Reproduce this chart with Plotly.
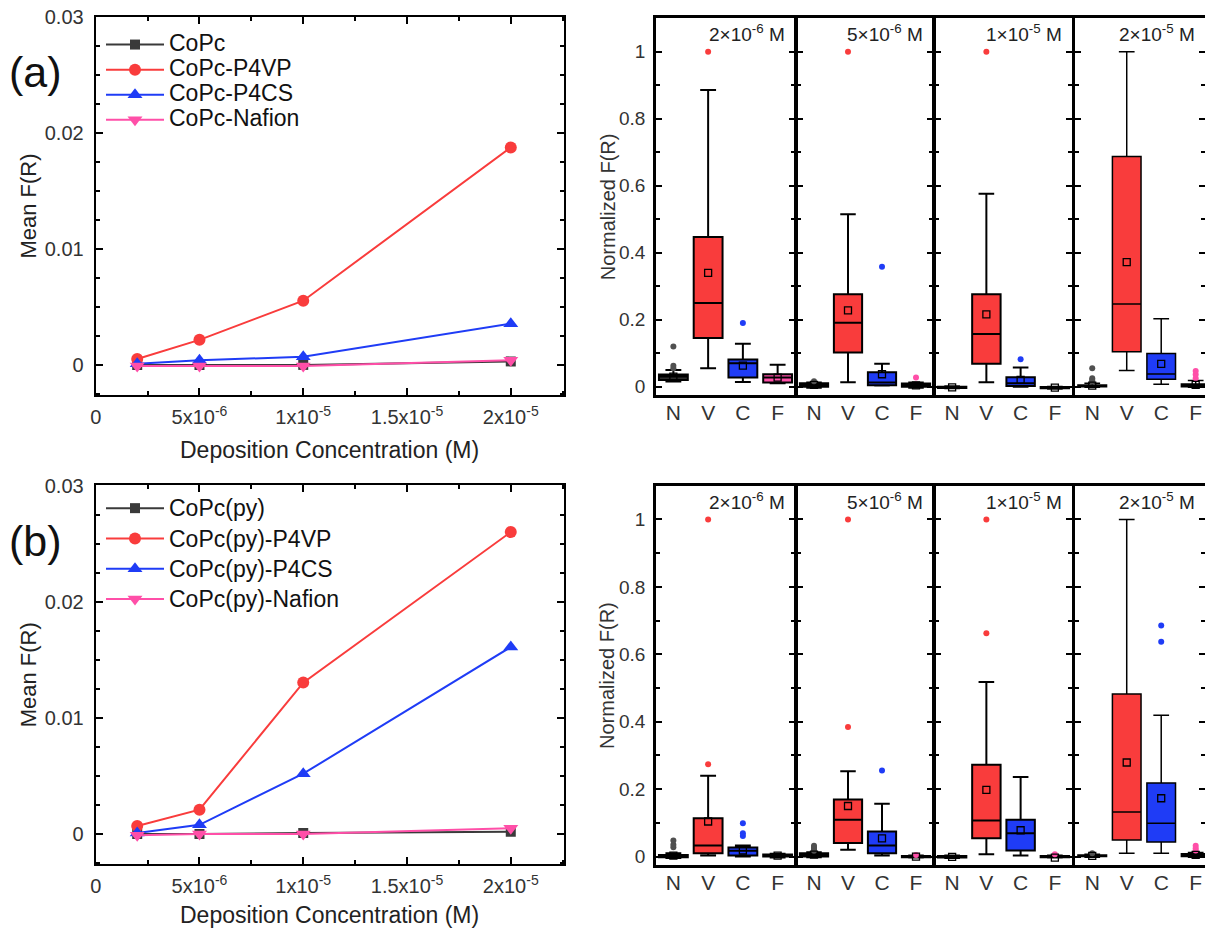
import plotly.graph_objects as go

W, H = 1205, 930
FONT = "Arial, Liberation Sans, sans-serif"

# ---------------- mean F(R) vs deposition concentration ----------------
conc = [2e-6, 5e-6, 1e-5, 2e-5]

copc_a = [0.0, 0.0, 0.0, 0.0003]
p4vp_a = [0.0005, 0.00216, 0.00554, 0.01877]
p4cs_a = [0.0001, 0.0004, 0.0007, 0.00356]
nafion_a = [-0.0001, -0.0001, -0.0001, 0.0004]

copc_b = [0.0, 0.0, 0.0001, 0.0002]
p4vp_b = [0.0007, 0.0021, 0.01304, 0.0260]
p4cs_b = [0.0001, 0.0008, 0.0052, 0.0161]
nafion_b = [-0.0001, 0.0, 0.0, 0.0005]

names_a = ["CoPc", "CoPc-P4VP", "CoPc-P4CS", "CoPc-Nafion"]
names_b = ["CoPc(py)", "CoPc(py)-P4VP", "CoPc(py)-P4CS", "CoPc(py)-Nafion"]

x_tickvals = [0, 5e-6, 1e-5, 1.5e-5, 2e-5]
x_ticktext = ["0", "5x10<sup>-6</sup>", "1x10<sup>-5</sup>",
              "1.5x10<sup>-5</sup>", "2x10<sup>-5</sup>"]
y_tickvals = [0, 0.01, 0.02, 0.03]
y_ticktext = ["0", "0.01", "0.02", "0.03"]

# ---------------- normalized F(R) box statistics ----------------
groups = ["N", "V", "C", "F"]
conc_labels = ["2\u00d710<sup>-6</sup> M", "5\u00d710<sup>-6</sup> M",
               "1\u00d710<sup>-5</sup> M", "2\u00d710<sup>-5</sup> M"]

# row (a): one inner list per concentration, ordered N, V, C, F
q1_a = [[0.020, 0.145, 0.027, 0.012],
        [0.000, 0.102, 0.004, 0.000],
        [-0.004, 0.068, 0.002, -0.005],
        [0.000, 0.104, 0.022, 0.000]]
med_a = [[0.030, 0.250, 0.070, 0.027],
         [0.005, 0.191, 0.012, 0.004],
         [-0.002, 0.157, 0.010, -0.003],
         [0.002, 0.247, 0.038, 0.004]]
q3_a = [[0.036, 0.447, 0.081, 0.037],
        [0.010, 0.276, 0.043, 0.009],
        [0.000, 0.276, 0.028, -0.001],
        [0.005, 0.687, 0.099, 0.008]]
lo_a = [[0.015, 0.055, 0.014, 0.010],
        [-0.003, 0.013, 0.003, -0.003],
        [-0.005, 0.013, 0.000, -0.006],
        [-0.002, 0.048, 0.007, -0.002]]
hi_a = [[0.050, 0.886, 0.128, 0.065],
        [0.012, 0.515, 0.068, 0.012],
        [0.001, 0.576, 0.057, 0.000],
        [0.010, 1.000, 0.203, 0.018]]
mean_a = [[0.030, 0.340, 0.063, 0.027],
          [0.005, 0.228, 0.037, 0.004],
          [-0.002, 0.216, 0.020, -0.003],
          [0.003, 0.372, 0.068, 0.005]]
out_a = [[[0.055, 0.062, 0.12], [1.0], [0.190], []],
         [[0.016], [1.0], [0.358], [0.027]],
         [[], [1.0], [0.082], []],
         [[0.015, 0.020, 0.025, 0.055], [], [], [0.025, 0.036, 0.047]]]

# row (b)
q1_b = [[-0.002, 0.010, 0.003, 0.000],
        [0.000, 0.040, 0.010, -0.002],
        [-0.003, 0.054, 0.018, -0.002],
        [0.000, 0.049, 0.043, 0.000]]
med_b = [[0.002, 0.033, 0.017, 0.003],
         [0.005, 0.109, 0.033, 0.000],
         [0.000, 0.107, 0.069, 0.000],
         [0.002, 0.132, 0.099, 0.004]]
q3_b = [[0.005, 0.114, 0.027, 0.006],
        [0.010, 0.169, 0.074, 0.002],
        [0.002, 0.272, 0.109, 0.002],
        [0.005, 0.482, 0.218, 0.008]]
lo_b = [[-0.004, 0.003, 0.000, -0.003],
        [-0.002, 0.020, 0.003, -0.003],
        [-0.004, 0.007, 0.003, -0.003],
        [-0.002, 0.010, 0.010, -0.002]]
hi_b = [[0.010, 0.240, 0.033, 0.008],
        [0.013, 0.253, 0.157, 0.003],
        [0.003, 0.518, 0.236, 0.003],
        [0.007, 1.000, 0.419, 0.012]]
mean_b = [[0.003, 0.104, 0.018, 0.003],
          [0.006, 0.150, 0.054, 0.000],
          [-0.001, 0.198, 0.078, -0.003],
          [0.002, 0.279, 0.173, 0.005]]
out_b = [[[0.028, 0.035, 0.048], [0.274, 1.0], [0.061, 0.069, 0.099], []],
         [[0.017, 0.022, 0.027, 0.032], [0.384, 1.0], [0.255], [0.005]],
         [[], [0.662, 1.0], [], [0.007]],
         [[0.010], [], [0.637, 0.685], [0.018, 0.025, 0.032]]]

# ---------------- styling ----------------
GRAY, RED, BLUE, PINK = "#3a3a3a", "#f93c3c", "#1f3cf6", "#ff4fa8"
series_colors = [GRAY, RED, BLUE, PINK]
series_symbols = ["square", "circle", "triangle-up", "triangle-down"]
series_sizes = [10, 12, 13, 13]
box_fills = ["#2e2e2e", RED, BLUE, PINK]
out_colors = ["#505050", RED, BLUE, PINK]


def px_x(v):
    return v / W


def px_y(v):
    return 1 - v / H


def axkey(kind, n):
    return kind if n == 1 else f"{kind}{n}"


def paper_text(text, x, y, size, color="#222", angle=0):
    return dict(text=text, xref="paper", yref="paper", x=px_x(x), y=px_y(y),
                xanchor="center", yanchor="middle", textangle=angle,
                showarrow=False, font=dict(size=size, color=color, family=FONT))


fig = go.Figure()
layout = {}

# ---- line panels ----
line_rows = [
    (1, [copc_a, p4vp_a, p4cs_a, nafion_a], names_a, (16.7, 395.0), "legend"),
    (2, [copc_b, p4vp_b, p4cs_b, nafion_b], names_b, (485.0, 864.3), "legend2"),
]
for n, series, names, (ytop, ybot), leg in line_rows:
    for vals, name, col, sym, sz in zip(series, names, series_colors,
                                        series_symbols, series_sizes):
        fig.add_trace(go.Scatter(
            x=conc, y=vals, mode="lines+markers",
            name=f"<span style='font-size:23px'>{name}</span>",
            line=dict(color=col, width=2),
            marker=dict(symbol=sym, size=sz, color=col),
            xaxis=axkey("x", n), yaxis=axkey("y", n), legend=leg,
        ))
    layout[axkey("xaxis", n)] = dict(
        domain=[px_x(95.7), px_x(563.7)], anchor=axkey("y", n),
        range=[0, 2.255e-5], tickvals=x_tickvals, ticktext=x_ticktext,
        ticks="inside", ticklen=7, tickwidth=2, tickcolor="black",
        mirror="allticks", showline=True, linewidth=2, linecolor="black",
        minor=dict(tickmode="linear", tick0=0, dtick=2.5e-6, ticks="inside",
                   ticklen=4, tickwidth=1.5, tickcolor="black"),
        showgrid=False, zeroline=False, ticklabelstandoff=3, automargin=False,
        tickfont=dict(size=20, color="#333", family=FONT),
    )
    layout[axkey("yaxis", n)] = dict(
        domain=[px_y(ybot), px_y(ytop)], anchor=axkey("x", n),
        range=[-0.0026, 0.03005], tickvals=y_tickvals, ticktext=y_ticktext,
        ticks="inside", ticklen=7, tickwidth=2, tickcolor="black",
        mirror="allticks", showline=True, linewidth=2, linecolor="black",
        minor=dict(tickmode="linear", tick0=0, dtick=0.0025, ticks="inside",
                   ticklen=4, tickwidth=1.5, tickcolor="black"),
        showgrid=False, zeroline=False, ticklabelstandoff=6, automargin=False,
        tickfont=dict(size=20, color="#333", family=FONT),
    )

# ---- box panels ----
panel_x = [(656.0, 795.0), (797.0, 933.0), (935.0, 1072.0), (1075.0, 1205.0)]
panel_xrange = [[-0.5, 3.5], [-0.5, 3.5], [-0.5, 3.5], [-0.5, 3.27]]
box_rows = [
    ((18.3, 395.0), q1_a, med_a, q3_a, lo_a, hi_a, mean_a, out_a),
    ((485.7, 865.0), q1_b, med_b, q3_b, lo_b, hi_b, mean_b, out_b),
]
annotations = []
for r, ((ytop, ybot), q1s, meds, q3s, los, his, means, outs) in enumerate(box_rows):
    for c in range(4):
        n = 3 + r * 4 + c
        xa, ya = axkey("x", n), axkey("y", n)
        lw = 2 if c < 3 else 1.5
        for g in range(4):
            fig.add_trace(go.Box(
                x=[groups[g]], q1=[q1s[c][g]], median=[meds[c][g]],
                q3=[q3s[c][g]], lowerfence=[los[c][g]], upperfence=[his[c][g]],
                orientation="v", width=0.83, whiskerwidth=0.55,
                fillcolor=box_fills[g], line=dict(color="black", width=lw),
                boxpoints=False, showlegend=False, hoverinfo="skip",
                xaxis=xa, yaxis=ya,
            ))
            if outs[c][g]:
                fig.add_trace(go.Scatter(
                    x=[groups[g]] * len(outs[c][g]), y=outs[c][g], mode="markers",
                    marker=dict(symbol="circle", size=6, color=out_colors[g]),
                    showlegend=False, hoverinfo="skip", xaxis=xa, yaxis=ya,
                ))
        fig.add_trace(go.Scatter(
            x=groups, y=means[c], mode="markers",
            marker=dict(symbol="square-open", size=7, color="black",
                        line=dict(width=1.3, color="black")),
            showlegend=False, hoverinfo="skip", xaxis=xa, yaxis=ya,
        ))
        x0, x1 = panel_x[c]
        layout[axkey("xaxis", n)] = dict(
            domain=[px_x(x0), px_x(x1)], anchor=ya,
            type="category", categoryorder="array", categoryarray=groups,
            range=panel_xrange[c], ticks="", showline=True, mirror=True,
            linewidth=2.5, linecolor="black", showgrid=False, zeroline=False,
            ticklabelstandoff=-3, automargin=False,
            tickfont=dict(size=21, color="#333", family=FONT),
        )
        layout[axkey("yaxis", n)] = dict(
            domain=[px_y(ybot), px_y(ytop)], anchor=xa,
            range=[-0.025, 1.1], tickvals=[0, 0.2, 0.4, 0.6, 0.8, 1.0],
            ticktext=["0", "0.2", "0.4", "0.6", "0.8", "1"],
            showticklabels=(c == 0),
            ticks="inside", ticklen=6, tickwidth=2, tickcolor="black",
            mirror="allticks", showline=True, linewidth=2.5, linecolor="black",
            minor=dict(tickmode="linear", tick0=0, dtick=0.1, ticks="inside",
                       ticklen=4, tickwidth=1.5, tickcolor="black"),
            showgrid=False, zeroline=False, ticklabelstandoff=4, automargin=False,
            tickfont=dict(size=19, color="#333", family=FONT),
        )
        annotations.append(dict(
            text=conc_labels[c], xref=f"{xa} domain", yref=f"{ya} domain",
            x=1, y=1, xanchor="right", yanchor="top", xshift=-8, yshift=-1,
            showarrow=False, font=dict(size=19, color="#222", family=FONT),
        ))
    annotations.append(paper_text("Normalized F(R)", 607.6, (ytop + ybot) / 2,
                                  20, "#333", -90))

# axis titles and panel tags for the line plots
for (ytop, ybot), tag, tag_y, xt_y in [((16.7, 395.0), "(a)", 72, 450),
                                        ((485.0, 864.3), "(b)", 541, 915)]:
    annotations.append(paper_text("Mean F(R)", 28.7, (ytop + ybot) / 2, 22,
                                  angle=-90))
    annotations.append(paper_text("Deposition Concentration (M)", 329.5, xt_y, 23))
    annotations.append(paper_text(tag, 35, tag_y, 43, "#111"))

legend_common = dict(
    bgcolor="rgba(0,0,0,0)", borderwidth=0, itemwidth=58,
    xanchor="left", yanchor="top", tracegroupgap=0,
)
layout["legend"] = dict(legend_common, x=px_x(101), y=px_y(27),
                        font=dict(size=17, color="#111", family=FONT))
layout["legend2"] = dict(legend_common, x=px_x(101), y=px_y(488),
                         font=dict(size=21, color="#111", family=FONT))

fig.update_layout(
    width=W, height=H, margin=dict(l=0, r=0, t=0, b=0, autoexpand=False),
    paper_bgcolor="white", plot_bgcolor="white",
    font=dict(family=FONT, color="#222"),
    showlegend=True, annotations=annotations, **layout,
)

fig.write_html("out.html")
